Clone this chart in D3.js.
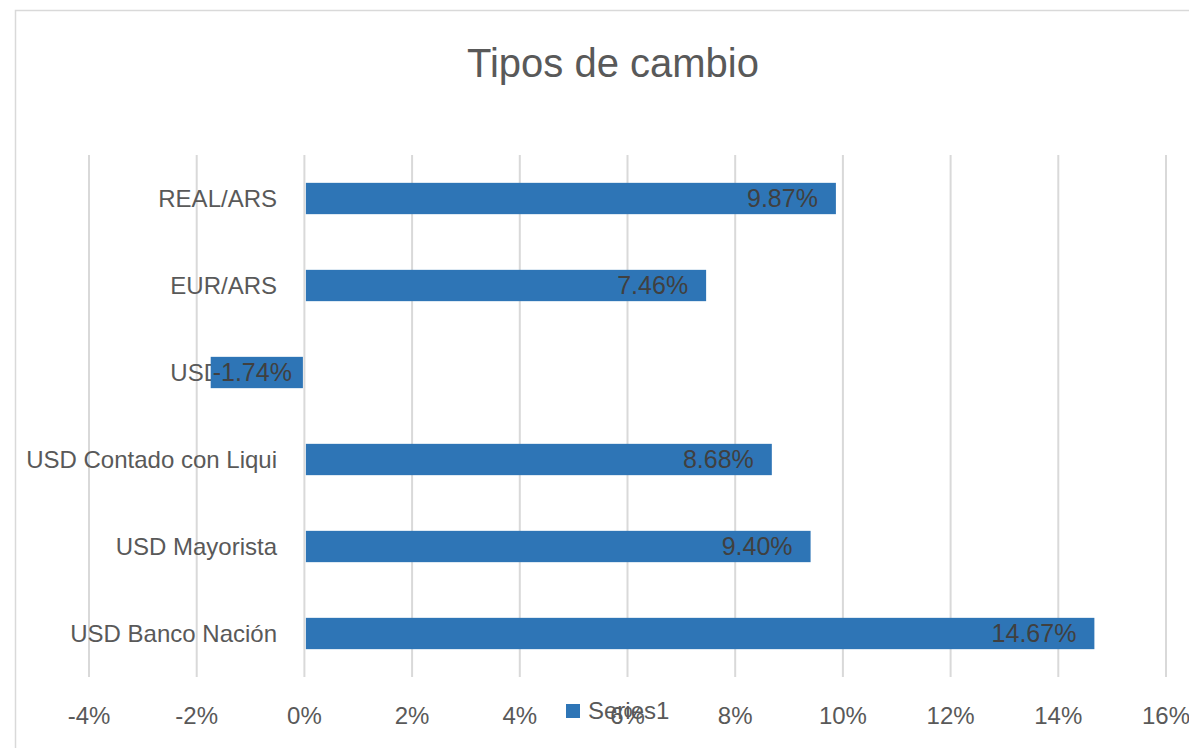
<!DOCTYPE html>
<html>
<head>
<meta charset="utf-8">
<script src="https://cdn.jsdelivr.net/npm/d3@7"></script>
<style>
  body { margin: 0; background: #fff; }
  text { font-family: "Liberation Sans", Arial, sans-serif; }
</style>
</head>
<body>
<svg id="chart" width="1189" height="748"></svg>
<script>
// data
var categories = ["REAL/ARS", "EUR/ARS", "USD/ARS", "USD Contado con Liqui", "USD Mayorista", "USD Banco Nación"];
var values = [9.87, 7.46, -1.74, 8.68, 9.40, 14.67];
var tickValues = [-4, -2, 0, 2, 4, 6, 8, 10, 12, 14, 16];
var seriesName = "Series1";
var chartTitle = "Tipos de cambio";

var svg = d3.select("#chart");
var barColor = "#2E75B6", gridColor = "#D9D9D9", textColor = "#595959";

// chart border (runs off right and bottom like the screenshot)
svg.append("rect")
    .attr("x", 15.5).attr("y", 10.5)
    .attr("width", 1200).attr("height", 760)
    .attr("fill", "#fff").attr("stroke", gridColor).attr("stroke-width", 1.5);

svg.append("text")
    .attr("x", 613).attr("y", 77)
    .attr("text-anchor", "middle")
    .style("font-size", "40px")
    .style("fill", textColor)
    .text(chartTitle);

var x = d3.scaleLinear().domain([-4, 16]).range([89, 1166]);
var y = d3.scaleBand().domain(categories).range([155, 677]).paddingInner(0.64).paddingOuter(0.32);

// gridlines
svg.append("g").selectAll("line")
    .data(tickValues)
    .enter().append("line")
    .attr("x1", function(d) { return x(d); })
    .attr("x2", function(d) { return x(d); })
    .attr("y1", 155).attr("y2", 677)
    .style("stroke", gridColor).style("stroke-width", 2);

// x tick labels
svg.append("g").selectAll("text")
    .data(tickValues)
    .enter().append("text")
    .attr("x", function(d) { return x(d); })
    .attr("y", 724)
    .attr("text-anchor", "middle")
    .style("font-size", "24px")
    .style("fill", textColor)
    .text(function(d) { return d + "%"; });

// category labels (bars drawn later sit on top of them)
svg.append("g").selectAll("text")
    .data(categories)
    .enter().append("text")
    .attr("x", 277)
    .attr("y", function(d) { return y(d) + y.bandwidth() / 2; })
    .attr("dy", ".35em")
    .attr("text-anchor", "end")
    .style("font-size", "24px")
    .style("fill", textColor)
    .text(function(d) { return d; });

// bars
svg.append("g").selectAll("rect")
    .data(values)
    .enter().append("rect")
    .attr("x", function(d) { return x(Math.min(0, d)) + (d >= 0 ? 1.5 : 0); })
    .attr("y", function(d, i) { return y(categories[i]); })
    .attr("width", function(d) { return Math.abs(x(d) - x(0)) - 1.5; })
    .attr("height", y.bandwidth())
    .style("fill", barColor);

// data labels, inside end
svg.append("g").selectAll("text")
    .data(values)
    .enter().append("text")
    .attr("x", function(d) { return d >= 0 ? x(d) - 18 : x(d) + 2; })
    .attr("y", function(d, i) { return y(categories[i]) + y.bandwidth() / 2; })
    .attr("dy", ".35em")
    .attr("text-anchor", function(d) { return d >= 0 ? "end" : "start"; })
    .style("font-size", "25px")
    .style("fill", "#404040")
    .text(function(d) { return d.toFixed(2) + "%"; });

// legend
var legend = svg.append("g").attr("transform", "translate(566,704)");
legend.append("rect").attr("width", 14).attr("height", 14).style("fill", barColor);
legend.append("text")
    .attr("x", 22).attr("y", 7).attr("dy", ".35em")
    .style("font-size", "24px")
    .style("fill", textColor)
    .text(seriesName);
</script>
</body>
</html>
